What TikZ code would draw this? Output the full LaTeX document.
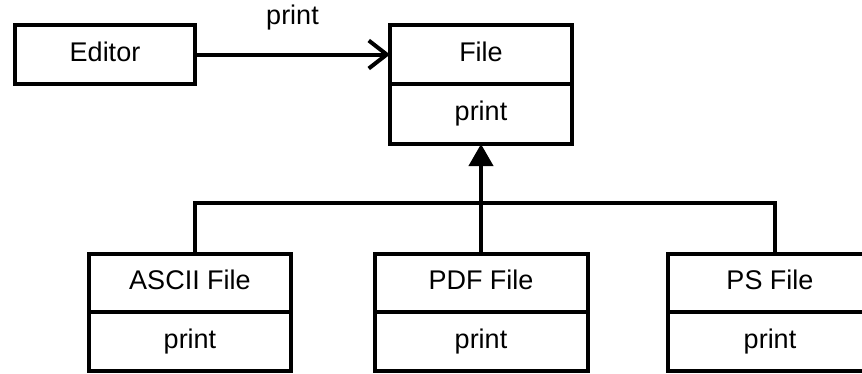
\documentclass[tikz,border=0pt]{standalone}
\usepackage{fontspec}
\setmainfont{Liberation Sans}
\usetikzlibrary{arrows.meta,positioning}

\tikzset{
  umlbox/.style={draw,line width=4pt,outer sep=0pt,inner sep=0pt,
    text height=20pt,text depth=6.75pt,font=\fontsize{27}{32}\selectfont},
  umllink/.style={line width=4pt},
  msglabel/.style={inner sep=0pt,font=\fontsize{27}{32}\selectfont}
}

\begin{document}
\begin{tikzpicture}[x=1pt,y=-1pt]
  \useasboundingbox (0,0) rectangle (862,373);
  % client
  \node[umlbox,minimum width=180pt,minimum height=59pt] (editor) at (105,54.5) {Editor};
  % base class
  \node[umlbox,minimum width=182pt,minimum height=59pt] (file) at (481,54.5) {File};
  \node[umlbox,minimum width=182pt,minimum height=60pt,below=0pt of file] (fileops) {print};
  % subclasses
  \node[umlbox,minimum width=202pt,minimum height=58pt] (ascii) at (190,283) {ASCII File};
  \node[umlbox,minimum width=202pt,minimum height=59pt,below=0pt of ascii] (asciiops) {print};
  \node[umlbox,minimum width=213pt,minimum height=58pt] (pdf) at (481,283) {PDF File};
  \node[umlbox,minimum width=213pt,minimum height=59pt,below=0pt of pdf] (pdfops) {print};
  \node[umlbox,minimum width=204pt,minimum height=58pt] (ps) at (770,283) {PS File};
  \node[umlbox,minimum width=204pt,minimum height=59pt,below=0pt of ps] (psops) {print};
  % message
  \draw[umllink,-{Straight Barb[length=18pt,width=28pt]}] (editor) -- node[msglabel,above=22pt] (msg) {print} (file);
  % generalisation
  \coordinate (bar) at (481,203);
  \draw[umllink,-{Triangle[length=22pt,width=24pt]}] (pdf.north) -- (fileops.south);
  \draw[umllink] ([xshift=5pt]ascii.north) |- (bar) -| ([xshift=5pt]ps.north);
\end{tikzpicture}
\end{document}
